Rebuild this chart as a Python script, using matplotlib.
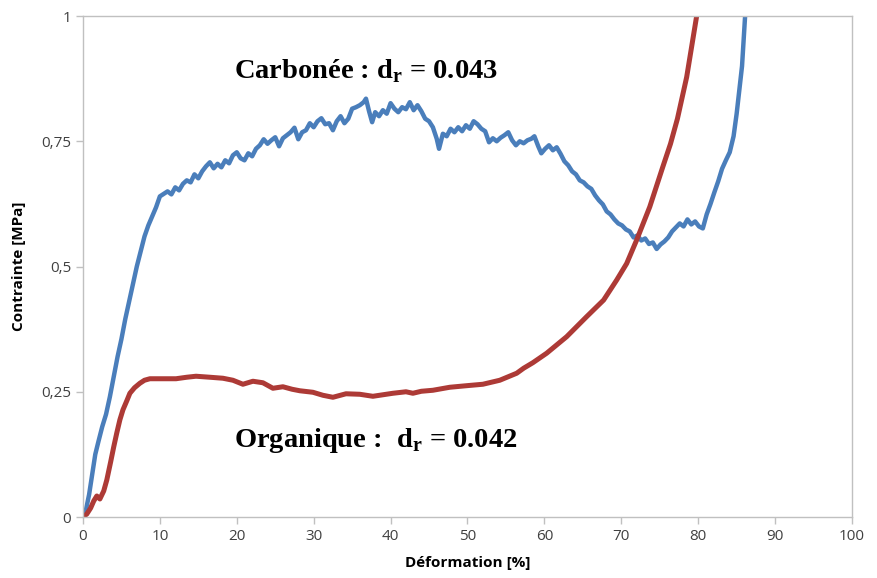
import matplotlib.pyplot as plt

# --- data ---
carbon_x = [0.0, 0.4, 0.8, 1.2, 1.6, 2.0, 2.5, 3.0, 3.5, 4.0, 4.5, 5.0, 5.5, 6.0, 6.5, 7.0, 7.5, 8.0, 8.5, 9.0, 9.5,
            10.0, 10.5, 11.0, 11.5, 12.0, 12.5, 13.0, 13.5, 14.0, 14.5, 15.0, 15.5, 16.0, 16.5, 17.0, 17.5, 18.0,
            18.5, 19.0, 19.5, 20.0, 20.5, 21.0, 21.5, 22.0, 22.5, 23.0, 23.5, 24.0, 24.5, 25.0, 25.5, 26.0, 26.5,
            27.0, 27.5, 28.0, 28.5, 29.0, 29.5, 30.0, 30.5, 31.0, 31.5, 32.0, 32.5, 33.0, 33.5, 34.0, 34.5, 35.0,
            35.5, 36.0, 36.5, 36.8, 37.2, 37.6, 38.0, 38.5, 39.0, 39.5, 40.0, 40.5, 41.0, 41.5, 42.0, 42.5, 43.0,
            43.5, 44.0, 44.5, 45.0, 45.5, 46.0, 46.3, 46.8, 47.3, 47.8, 48.3, 48.8, 49.3, 49.8, 50.3, 50.8, 51.3,
            51.8, 52.3, 52.8, 53.3, 53.8, 54.3, 54.8, 55.3, 55.8, 56.3, 56.8, 57.3, 57.8, 58.3, 58.7, 59.2, 59.6,
            60.1, 60.6, 61.1, 61.6, 62.1, 62.6, 63.1, 63.6, 64.1, 64.6, 65.1, 65.6, 66.1, 66.6, 67.1, 67.6, 68.1,
            68.6, 69.1, 69.6, 70.1, 70.6, 71.1, 71.6, 72.1, 72.6, 73.1, 73.6, 74.1, 74.6, 75.1, 75.6, 76.1, 76.6,
            77.1, 77.6, 78.1, 78.6, 79.1, 79.6, 80.1, 80.6, 81.1, 81.6, 82.1, 82.6, 83.1, 83.6, 84.1, 84.6, 85.0,
            85.4, 85.7, 86.1]
carbon_y = [0.0, 0.015, 0.045, 0.085, 0.125, 0.15, 0.18, 0.205, 0.24, 0.28, 0.32, 0.355, 0.395, 0.43, 0.465, 0.50,
            0.53, 0.56, 0.582, 0.60, 0.618,
            0.64, 0.645, 0.65, 0.644, 0.658, 0.652, 0.665, 0.672, 0.668, 0.684, 0.676, 0.69, 0.70, 0.708, 0.696,
            0.705, 0.698, 0.712, 0.706, 0.722, 0.728, 0.716, 0.712, 0.726, 0.72, 0.735, 0.742, 0.754, 0.745, 0.752,
            0.758, 0.74, 0.756, 0.762, 0.768, 0.777, 0.754, 0.768, 0.772, 0.786, 0.778, 0.79, 0.796, 0.784, 0.786,
            0.772, 0.79, 0.8, 0.786, 0.795, 0.815, 0.818, 0.822, 0.828, 0.835, 0.81, 0.788, 0.808, 0.8, 0.812,
            0.805, 0.826, 0.815, 0.808, 0.818, 0.814, 0.828, 0.812, 0.822, 0.81, 0.795, 0.79, 0.778, 0.755, 0.735,
            0.765, 0.76, 0.775, 0.768, 0.778, 0.77, 0.782, 0.775, 0.79, 0.784, 0.775, 0.77, 0.748, 0.756, 0.75,
            0.757, 0.762, 0.768, 0.752, 0.742, 0.75, 0.746, 0.752, 0.755, 0.76, 0.74, 0.726, 0.735, 0.742, 0.732,
            0.738, 0.725, 0.71, 0.702, 0.69, 0.684, 0.672, 0.668, 0.66, 0.655, 0.642, 0.632, 0.624, 0.61, 0.604,
            0.594, 0.586, 0.582, 0.574, 0.57, 0.558, 0.562, 0.552, 0.556, 0.545, 0.548, 0.535, 0.544, 0.55, 0.558,
            0.57, 0.578, 0.586, 0.58, 0.594, 0.584, 0.59, 0.58, 0.576, 0.604, 0.625, 0.648, 0.67, 0.695, 0.712,
            0.728, 0.76, 0.805, 0.86, 0.9, 1.0]

organic_x = [0.0, 0.5, 1.0, 1.4, 1.8, 2.2, 2.7, 3.1, 3.6, 4.0, 4.4, 4.8, 5.2, 5.7, 6.1, 6.7, 7.4, 8.0, 8.7, 10.0,
             12.1, 13.5, 14.7, 16.5, 18.2, 19.5, 20.8, 22.1, 23.4, 24.7, 26.0, 27.2, 28.2, 29.9, 31.2, 32.5,
             34.2, 36.0, 37.7, 39.0, 40.3, 42.0, 42.9, 44.0, 45.5, 47.7, 49.8, 52.0, 54.2, 56.4, 57.3, 58.5,
             60.3, 62.9, 65.5, 67.7, 69.4, 70.7, 72.0, 73.7, 75.4, 76.4, 77.3, 78.5, 79.8]
organic_y = [0.0, 0.006, 0.018, 0.032, 0.042, 0.036, 0.052, 0.074, 0.11, 0.14, 0.168, 0.194, 0.214, 0.232, 0.247,
             0.258, 0.267, 0.273, 0.276, 0.276, 0.276, 0.279, 0.281, 0.279, 0.277, 0.273, 0.265, 0.271, 0.268,
             0.257, 0.26, 0.255, 0.252, 0.249, 0.243, 0.239, 0.246, 0.245, 0.241, 0.244, 0.247, 0.25, 0.247,
             0.251, 0.253, 0.259, 0.262, 0.265, 0.273, 0.287, 0.297, 0.308, 0.327, 0.36, 0.40, 0.433, 0.473,
             0.506, 0.553, 0.619, 0.699, 0.745, 0.795, 0.878, 1.0]

x_ticks = [0, 10, 20, 30, 40, 50, 60, 70, 80, 90, 100]
y_ticks = [0, 0.25, 0.5, 0.75, 1]
y_tick_labels = ["0", "0,25", "0,5", "0,75", "1"]

plt.rcParams['mathtext.fontset'] = 'custom'
plt.rcParams['mathtext.rm'] = 'Liberation Serif:bold'

fig = plt.figure(figsize=(8.77, 5.78), dpi=100)
ax = fig.add_axes([0.0946, 0.1055, 0.8769, 0.8668])

ax.plot(carbon_x, carbon_y, color='#4a7ebb', linewidth=3.2)
ax.plot(organic_x, organic_y, color='#ad3a36', linewidth=3.6)

ax.set_xlim(0, 100)
ax.set_ylim(0, 1)
ax.set_xticks(x_ticks)
ax.set_yticks(y_ticks)
ax.set_yticklabels(y_tick_labels)

for s in ax.spines.values():
    s.set_color('#c0c0c0')
    s.set_linewidth(1.0)
ax.tick_params(color='#c0c0c0', length=5, width=1.0, labelcolor='#404040', labelsize=11)
for lab in ax.get_xticklabels() + ax.get_yticklabels():
    lab.set_family('Open Sans')

ax.set_xlabel('Déformation [%]', fontsize=11, fontweight='bold', family='Open Sans', labelpad=9)
ax.set_ylabel('Contrainte [MPa]', fontsize=11, fontweight='bold', family='Open Sans', labelpad=11)

ax.text(19.7, 0.89, r'Carbonée : d$_\mathregular{r}$ = 0.043', fontsize=20.5, fontweight='bold',
        family='Liberation Serif', ha='left', va='center')
ax.text(19.7, 0.152, r'Organique :  d$_\mathregular{r}$ = 0.042', fontsize=20.5, fontweight='bold',
        family='Liberation Serif', ha='left', va='center')

fig.savefig('out.png', dpi=100)
